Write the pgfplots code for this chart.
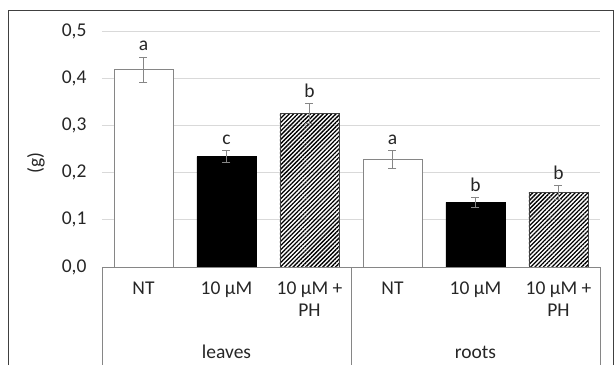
\documentclass[border=0pt]{standalone}
\usepackage{pgfplots}
\pgfplotsset{compat=1.18}
\usepackage{fontspec}
\setmainfont{Carlito}
\usetikzlibrary{patterns.meta}
\definecolor{gridc}{HTML}{D9D9D9}
\definecolor{linec}{HTML}{868686}
\definecolor{framec}{HTML}{404040}
\definecolor{txt}{HTML}{262626}
\newcommand{\ff}{\fontsize{19.5}{23}\selectfont}
\begin{document}
\begin{tikzpicture}[x=1pt,y=1pt]
\path[use as bounding box] (0,0) rectangle (614,365);
\draw[framec, line width=1pt] (8,0) -- (8,354) -- (613,354) -- (613,0);
\begin{axis}[
  at={(102pt,98pt)}, anchor=south west,
  scale only axis, width=498pt, height=236pt,
  xmin=-0.5, xmax=5.5, ymin=0, ymax=0.5,
  axis line style={draw=none},
  tick style={draw=none},
  ymajorgrids, grid style={gridc, line width=0.8pt},
  ytick={0,0.1,0.2,0.3,0.4,0.5},
  /pgf/number format/assume math mode=true,
  yticklabel style={/pgf/number format/fixed, /pgf/number format/fixed zerofill, /pgf/number format/precision=1, /pgf/number format/use comma},
  yticklabel style={xshift=-12pt, font=\ff, text=txt},
  xtick={0,1,2,3,4,5},
  xticklabels={NT, 10 µM, {10 µM +\\PH}, NT, 10 µM, {10 µM +\\PH}},
  xticklabel style={align=center, anchor=north, yshift=-11pt, font=\fontsize{19.5}{22}\selectfont, text=txt},
  ylabel={(g)},
  ylabel style={at={(axis description cs:-0.1325,0.44)}, anchor=center, rotate=0, font=\ff, text=txt},
  clip=false,
]
\addplot[ybar, bar width=59pt, bar shift=0pt, fill=white, draw=linec, line width=0.8pt,
  error bars/.cd, y dir=both, y explicit,
  error bar style={linec, line width=0.8pt},
  error mark options={rotate=90, mark size=4pt, linec, line width=0.8pt}]
  coordinates {(0,0.418) +- (0,0.027) (3,0.227) +- (0,0.019)};
\addplot[ybar, bar width=59pt, bar shift=0pt, fill=black, draw=black, line width=0.8pt,
  error bars/.cd, y dir=both, y explicit,
  error bar style={linec, line width=0.8pt},
  error mark options={rotate=90, mark size=4pt, linec, line width=0.8pt}]
  coordinates {(1,0.234) +- (0,0.013) (4,0.137) +- (0,0.010)};
\addplot[ybar, bar width=59pt, bar shift=0pt, pattern={Lines[angle=45, distance=3pt, line width=1.3pt]}, pattern color=black, draw=framec, line width=0.8pt,
  error bars/.cd, y dir=both, y explicit,
  error bar style={linec, line width=0.8pt},
  error mark options={rotate=90, mark size=4pt, linec, line width=0.8pt}]
  coordinates {(2,0.325) +- (0,0.021) (5,0.158) +- (0,0.015)};
\addplot[draw=none, mark=none, nodes near coords, point meta=explicit symbolic,
  every node near coord/.style={anchor=base, yshift=6pt, font=\ff, text=txt}]
  coordinates {(0,0.445) [a] (1,0.247) [c] (2,0.346) [b] (3,0.246) [a] (4,0.147) [b] (5,0.173) [b]};
\coordinate (L) at (axis cs:-0.5,0);
\coordinate (M) at (axis cs:2.5,0);
\coordinate (R) at (axis cs:5.5,0);
\node[font=\ff, text=txt, anchor=base] at ([yshift=-91pt]axis cs:1,0) {leaves};
\node[font=\ff, text=txt, anchor=base] at ([yshift=-91pt]axis cs:4,0) {roots};
\end{axis}
\draw[linec, line width=0.8pt] (L) -- (R);
\draw[linec, line width=0.8pt] (L) -- (L|-0,0);
\draw[linec, line width=0.8pt] (M) -- (M|-0,0);
\draw[linec, line width=0.8pt] (R) -- (R|-0,0);
\end{tikzpicture}
\end{document}
